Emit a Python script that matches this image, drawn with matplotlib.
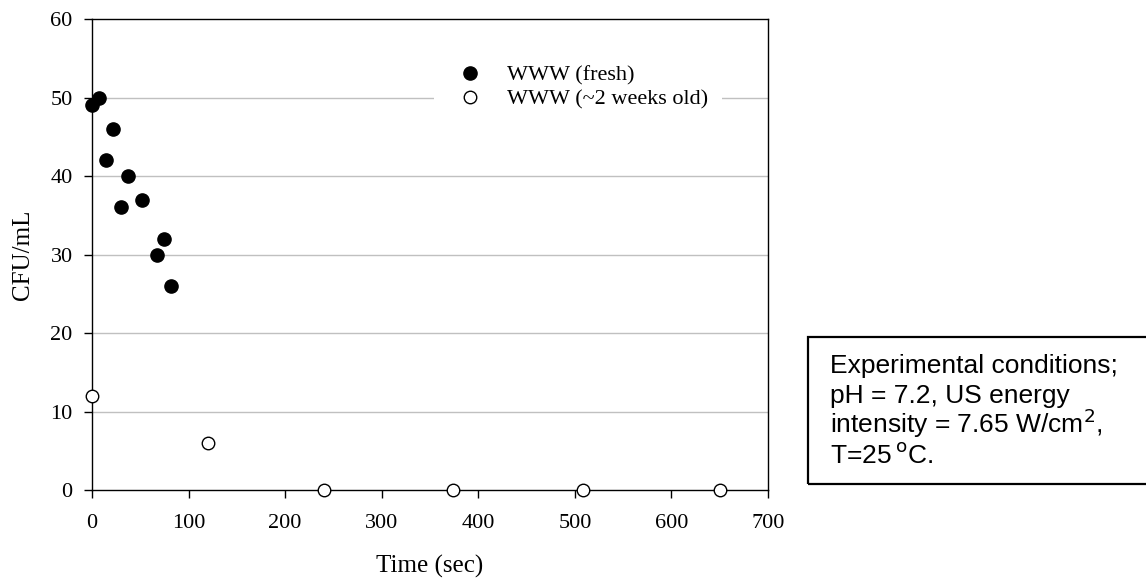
import matplotlib.pyplot as plt
from matplotlib.patches import Rectangle

# CFU counts over sonication time
fresh_time = [0, 7, 14, 22, 30, 37, 52, 67, 75, 82]
fresh_cfu = [49, 50, 42, 46, 36, 40, 37, 30, 32, 26]
old_time = [0, 120, 240, 374, 508, 650]
old_cfu = [12, 6, 0, 0, 0, 0]

x_ticks = [0, 100, 200, 300, 400, 500, 600, 700]
y_ticks = [0, 10, 20, 30, 40, 50, 60]

note_lines = ['Experimental conditions;',
              'pH = 7.2, US energy',
              'intensity = 7.65 W/cm$^2$,',
              'T=25$\\,^{\\rm o}$C.']

serif = ['Liberation Serif', 'DejaVu Serif']
sans = ['Liberation Sans', 'DejaVu Sans']

fig = plt.figure(figsize=(11.46, 5.81), dpi=100)
ax = fig.add_axes([0.0803, 0.1566, 0.5899, 0.8107])

for y in y_ticks[1:-1]:
    ax.axhline(y, color='#c0c0c0', lw=1.0, zorder=0)

ax.plot(fresh_time, fresh_cfu, 'o', ls='none', color='black', ms=9.5,
        clip_on=False, zorder=3, label='WWW (fresh)')
ax.plot(old_time, old_cfu, 'o', ls='none', mfc='white', mec='black', mew=1.0,
        ms=9.0, clip_on=False, zorder=3, label='WWW (~2 weeks old)')

ax.set_xlim(0, 700)
ax.set_ylim(0, 60)
ax.set_xticks(x_ticks)
ax.set_yticks(y_ticks)
ax.tick_params(direction='out', length=6, width=1, colors='black',
               labelsize=16)
ax.tick_params(axis='x', pad=11)
ax.tick_params(axis='y', pad=8)
for lab in ax.get_xticklabels() + ax.get_yticklabels():
    lab.set_family(serif)
for s in ax.spines.values():
    s.set_linewidth(1.0)
    s.set_color('black')

ax.set_xlabel('Time (sec)', family=serif, fontsize=18, labelpad=16)
ax.set_ylabel('CFU/mL', family=serif, fontsize=18, labelpad=12)

leg = ax.legend(loc='upper left', bbox_to_anchor=(0.506, 0.93), frameon=True,
                prop={'family': serif, 'size': 16}, handletextpad=0.7,
                borderpad=0.6, labelspacing=0.15, handlelength=2.0,
                borderaxespad=0)
leg.get_frame().set_edgecolor('none')
leg.get_frame().set_facecolor('white')
leg.get_frame().set_alpha(1.0)

# experimental conditions box
fig.patches.append(Rectangle((808 / 1146, 1 - 484 / 581), 340 / 1146, 147 / 581,
                             transform=fig.transFigure, fill=False,
                             edgecolor='black', lw=1.6))
for i, line in enumerate(note_lines):
    fig.text(830 / 1146, 1 - (373 + 30 * i) / 581, line,
             family=sans, fontsize=19, va='baseline', ha='left')

fig.savefig('out.png', dpi=100)
